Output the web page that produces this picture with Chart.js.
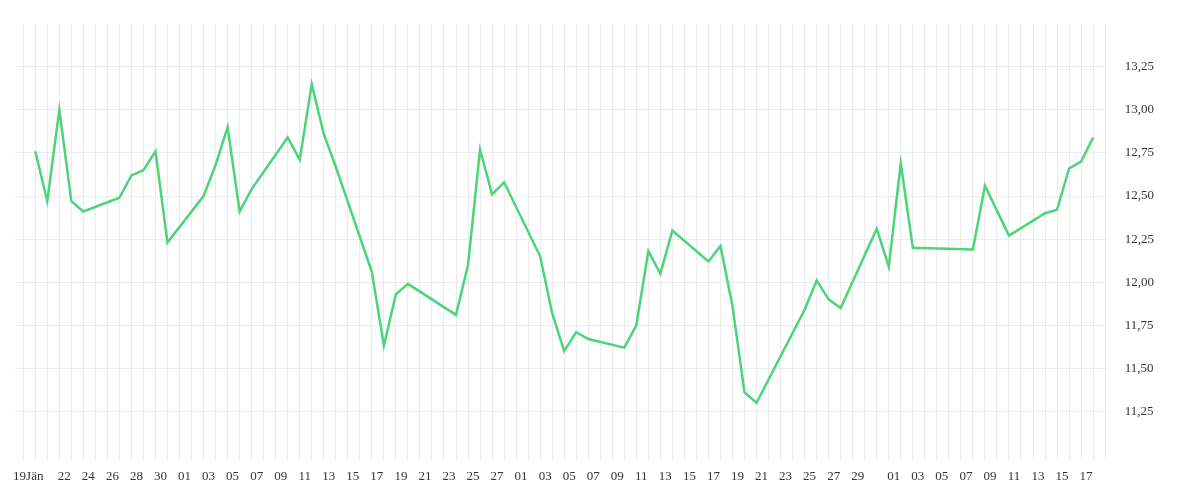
<!DOCTYPE html>
<html><head><meta charset="utf-8">
<script src="https://cdn.jsdelivr.net/npm/chart.js@4"></script>
<style>html,body{margin:0;background:#fff;overflow:hidden}#w{width:1200px;height:500px}</style>
</head><body><div id="w"><canvas id="c"></canvas></div>
<script>
// day index 0 = 19 Jan
const days = [1,2,3,4,5,8,9,10,11,12,15,16,17,18,19,22,23,24,25,26,29,30,31,32,36,37,38,39,40,43,44,45,46,47,50,51,52,53,54,57,58,59,60,61,65,66,67,68,71,72,73,74,79,80,82,85,86,87,88,89];
const values = [12.76,12.47,13.00,12.47,12.41,12.49,12.62,12.65,12.76,12.23,12.50,12.68,12.90,12.41,12.54,12.84,12.71,13.15,12.86,12.67,12.06,11.63,11.93,11.99,11.81,12.10,12.77,12.51,12.58,12.15,11.82,11.60,11.71,11.67,11.62,11.75,12.18,12.05,12.30,12.12,12.21,11.86,11.36,11.30,11.84,12.01,11.90,11.85,12.31,12.09,12.69,12.20,12.19,12.56,12.27,12.40,12.42,12.66,12.70,12.84];
const yTicks = [11.25,11.5,11.75,12.0,12.25,12.5,12.75,13.0,13.25];
const monthNames = ['Jän','Feb','Mär','Apr'];
const startDate = new Date(2025,0,19);

function dayLabel(d){
  if (d>89) return '';
  const dt = new Date(startDate.getTime()); dt.setDate(dt.getDate()+d);
  const m = dt.getMonth(), day = dt.getDate();
  const s = String(day).padStart(2,'0');
  if (d===0) return s+monthNames[m];
  if (m===0) return (day>=22 && day%2===0) ? s : '';
  if (m===2 && day===31) return '';
  return day%2===1 ? s : '';
}

new Chart(document.getElementById('c'),{
  type:'line',
  data:{datasets:[{data:days.map((d,i)=>({x:d,y:values[i]})),borderColor:'#4cd47a',borderWidth:2.5,pointRadius:0,tension:0,fill:false}]},
  options:{
    responsive:true,maintainAspectRatio:false,animation:false,
    layout:{padding:{left:10,right:30,top:-27,bottom:8}},
    plugins:{legend:{display:false},tooltip:{enabled:false}},
    scales:{
      x:{type:'linear',min:-0.7,max:90.3,
        grid:{color:'#ebebeb',drawTicks:true,tickLength:6},border:{display:false},
        afterBuildTicks:a=>{a.ticks=[];for(let d=0;d<=90;d++)a.ticks.push({value:d});},
        ticks:{autoSkip:false,maxRotation:0,color:'#333',font:{family:'Liberation Serif',size:13},padding:8,labelOffset:5,
          callback:v=>dayLabel(v)}},
      y:{position:'right',min:11.0,max:13.5,
        grid:{color:'#ebebeb',drawTicks:false},border:{display:false},
        afterBuildTicks:a=>{a.ticks=yTicks.map(v=>({value:v}));},
        ticks:{color:'#333',font:{family:'Liberation Serif',size:13},padding:16,
          callback:v=>v.toFixed(2).replace('.',','),}}
    }
  }
});
</script></body></html>
